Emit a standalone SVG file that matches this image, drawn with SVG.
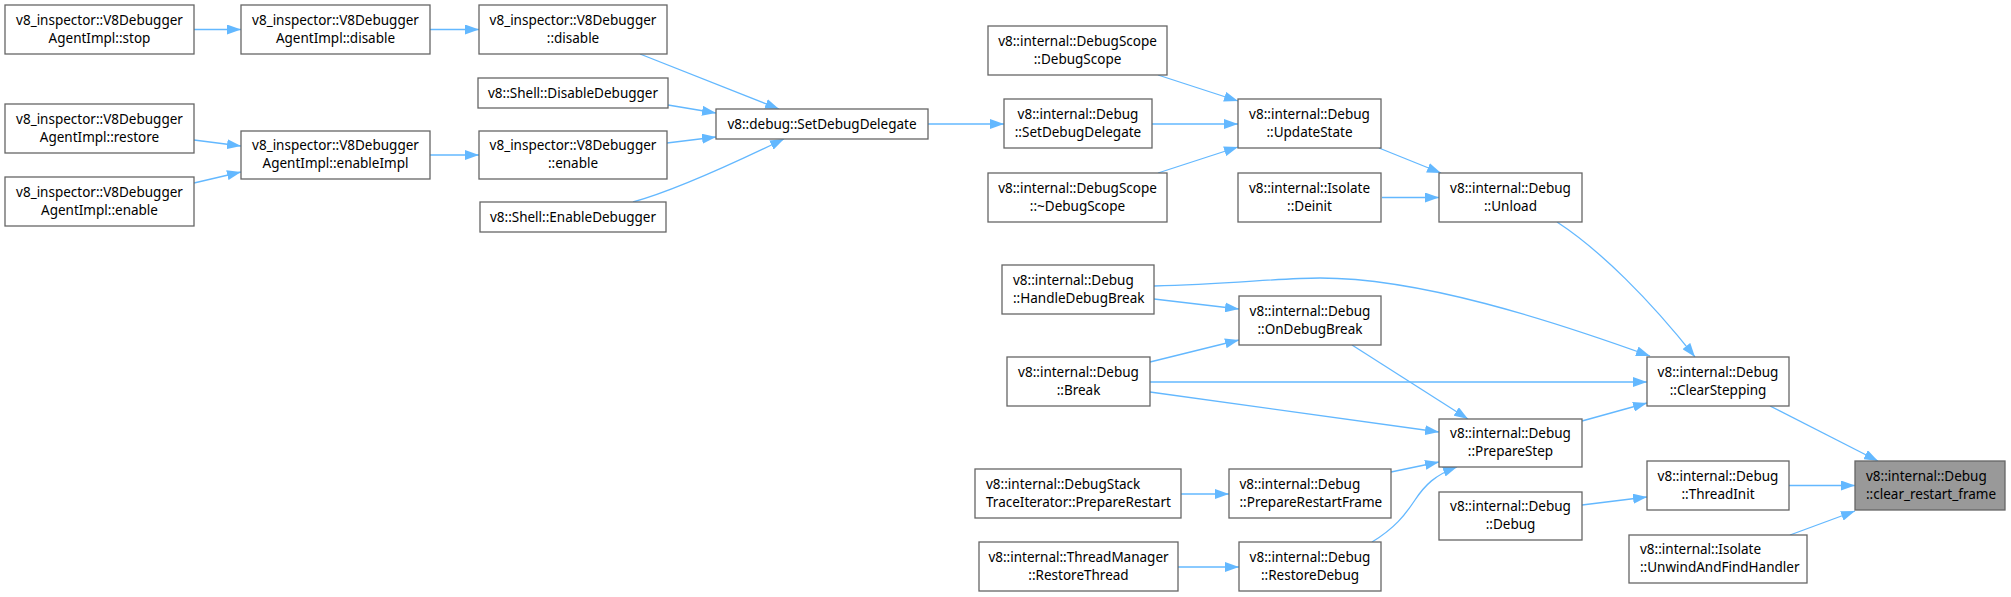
<svg xmlns="http://www.w3.org/2000/svg" width="2011" height="597" viewBox="0 0 2011 597">
<style>
.n rect{fill:#ffffff;stroke:#666666;stroke-width:1.3}
.n.hl rect{fill:#999999}
.n text{font-family:"Noto Sans","DejaVu Sans",sans-serif;font-size:13.5px;fill:#000000;text-anchor:middle}
.n text.l{text-anchor:start}
#edges path{fill:none;stroke:#63b8ff;stroke-width:1.3;marker-end:url(#arr)}
</style>
<defs>
<marker id="arr" markerWidth="14" markerHeight="10" refX="14" refY="5" orient="auto" markerUnits="userSpaceOnUse">
<path d="M0,0 L14,5 L0,10 z" fill="#63b8ff"/>
</marker>
</defs>
<rect width="2011" height="597" fill="#ffffff"/>
<g id="edges">
<path d="M194,29.5 L241,29.5"/>
<path d="M430,29.5 L479,29.5"/>
<path d="M640,54 L779,109"/>
<path d="M668,105 L716,113"/>
<path d="M667,143 L716,137"/>
<path d="M633,202 C670,192 720,170 784,139"/>
<path d="M194,140 L241,146"/>
<path d="M194,183 L241,172"/>
<path d="M430,155 L479,155"/>
<path d="M928,124 L1004,124"/>
<path d="M1158,75 L1238,101"/>
<path d="M1152,124 L1238,124"/>
<path d="M1158,173 L1238,147"/>
<path d="M1379,148 L1441,173"/>
<path d="M1382,197.5 L1439,197.5"/>
<path d="M1557,222 C1600,250 1650,300 1695,357"/>
<path d="M1154,286 C1230,284 1280,278 1320,278 C1420,278 1550,320 1650,356"/>
<path d="M1154,299 L1239,309"/>
<path d="M1150,362 L1239,340"/>
<path d="M1150,382 L1647,382"/>
<path d="M1150,392 L1439,432"/>
<path d="M1352,345 L1468,419"/>
<path d="M1582,421 L1647,403"/>
<path d="M1770,406 L1878,461"/>
<path d="M1789,485.5 L1855,485.5"/>
<path d="M1790,535 L1855,511"/>
<path d="M1582,505 L1647,497"/>
<path d="M1181,494 L1229,494"/>
<path d="M1391,472 L1439,462"/>
<path d="M1178,567 L1239,567"/>
<path d="M1372,542 C1395,528 1405,515 1415,500 C1425,485 1435,475 1457,467"/>
</g>
<g id="n1" class="n"><rect x="5" y="5" width="189" height="49"/><text x="99.5" y="25">v8_inspector::V8Debugger</text><text x="99.5" y="43">AgentImpl::stop</text></g>
<g id="n2" class="n"><rect x="241" y="5" width="189" height="49"/><text x="335.5" y="25">v8_inspector::V8Debugger</text><text x="335.5" y="43">AgentImpl::disable</text></g>
<g id="n3" class="n"><rect x="479" y="5" width="188" height="49"/><text x="573" y="25">v8_inspector::V8Debugger</text><text x="573" y="43">::disable</text></g>
<g id="n4" class="n"><rect x="478" y="78" width="190" height="30"/><text x="573" y="97.5">v8::Shell::DisableDebugger</text></g>
<g id="n5" class="n"><rect x="5" y="104" width="189" height="49"/><text x="99.5" y="124">v8_inspector::V8Debugger</text><text x="99.5" y="142">AgentImpl::restore</text></g>
<g id="n6" class="n"><rect x="241" y="131" width="189" height="48"/><text x="335.5" y="150">v8_inspector::V8Debugger</text><text x="335.5" y="168">AgentImpl::enableImpl</text></g>
<g id="n7" class="n"><rect x="479" y="131" width="188" height="48"/><text x="573" y="150">v8_inspector::V8Debugger</text><text x="573" y="168">::enable</text></g>
<g id="n8" class="n"><rect x="5" y="177" width="189" height="49"/><text x="99.5" y="197">v8_inspector::V8Debugger</text><text x="99.5" y="215">AgentImpl::enable</text></g>
<g id="n9" class="n"><rect x="480" y="202" width="186" height="30"/><text x="573" y="221.5">v8::Shell::EnableDebugger</text></g>
<g id="n10" class="n"><rect x="716" y="109" width="212" height="30"/><text x="822" y="128.5">v8::debug::SetDebugDelegate</text></g>
<g id="n11" class="n"><rect x="988" y="26" width="179" height="49"/><text x="1077.5" y="46">v8::internal::DebugScope</text><text x="1077.5" y="64">::DebugScope</text></g>
<g id="n12" class="n"><rect x="1004" y="99" width="148" height="49"/><text x="1078" y="119">v8::internal::Debug</text><text x="1078" y="137">::SetDebugDelegate</text></g>
<g id="n13" class="n"><rect x="988" y="173" width="179" height="49"/><text x="1077.5" y="193">v8::internal::DebugScope</text><text x="1077.5" y="211">::~DebugScope</text></g>
<g id="n14" class="n"><rect x="1238" y="99" width="143" height="49"/><text x="1309.5" y="119">v8::internal::Debug</text><text x="1309.5" y="137">::UpdateState</text></g>
<g id="n15" class="n"><rect x="1238" y="173" width="143" height="49"/><text x="1309.5" y="193">v8::internal::Isolate</text><text x="1309.5" y="211">::Deinit</text></g>
<g id="n16" class="n"><rect x="1439" y="173" width="143" height="49"/><text x="1510.5" y="193">v8::internal::Debug</text><text x="1510.5" y="211">::Unload</text></g>
<g id="n17" class="n"><rect x="1002" y="265" width="152" height="49"/><text class="l" x="1013" y="285">v8::internal::Debug</text><text class="l" x="1013" y="303">::HandleDebugBreak</text></g>
<g id="n18" class="n"><rect x="1239" y="296" width="142" height="49"/><text x="1310" y="316">v8::internal::Debug</text><text x="1310" y="334">::OnDebugBreak</text></g>
<g id="n19" class="n"><rect x="1007" y="357" width="143" height="49"/><text x="1078.5" y="377">v8::internal::Debug</text><text x="1078.5" y="395">::Break</text></g>
<g id="n20" class="n"><rect x="1439" y="419" width="143" height="48"/><text x="1510.5" y="438">v8::internal::Debug</text><text x="1510.5" y="456">::PrepareStep</text></g>
<g id="n21" class="n"><rect x="975" y="469" width="206" height="49"/><text class="l" x="986" y="489">v8::internal::DebugStack</text><text class="l" x="986" y="507">TraceIterator::PrepareRestart</text></g>
<g id="n22" class="n"><rect x="1229" y="469" width="162" height="49"/><text class="l" x="1239.5" y="489">v8::internal::Debug</text><text class="l" x="1239.5" y="507">::PrepareRestartFrame</text></g>
<g id="n23" class="n"><rect x="1439" y="492" width="143" height="48"/><text x="1510.5" y="511">v8::internal::Debug</text><text x="1510.5" y="529">::Debug</text></g>
<g id="n24" class="n"><rect x="979" y="542" width="199" height="49"/><text x="1078.5" y="562">v8::internal::ThreadManager</text><text x="1078.5" y="580">::RestoreThread</text></g>
<g id="n25" class="n"><rect x="1239" y="542" width="142" height="49"/><text x="1310" y="562">v8::internal::Debug</text><text x="1310" y="580">::RestoreDebug</text></g>
<g id="n26" class="n"><rect x="1647" y="357" width="142" height="49"/><text x="1718" y="377">v8::internal::Debug</text><text x="1718" y="395">::ClearStepping</text></g>
<g id="n27" class="n"><rect x="1647" y="461" width="142" height="49"/><text x="1718" y="481">v8::internal::Debug</text><text x="1718" y="499">::ThreadInit</text></g>
<g id="n28" class="n hl"><rect x="1855" y="461" width="150" height="49"/><text class="l" x="1866" y="481">v8::internal::Debug</text><text class="l" x="1866" y="499">::clear_restart_frame</text></g>
<g id="n29" class="n"><rect x="1629" y="535" width="178" height="48"/><text class="l" x="1640" y="554">v8::internal::Isolate</text><text class="l" x="1640" y="572">::UnwindAndFindHandler</text></g>
</svg>
